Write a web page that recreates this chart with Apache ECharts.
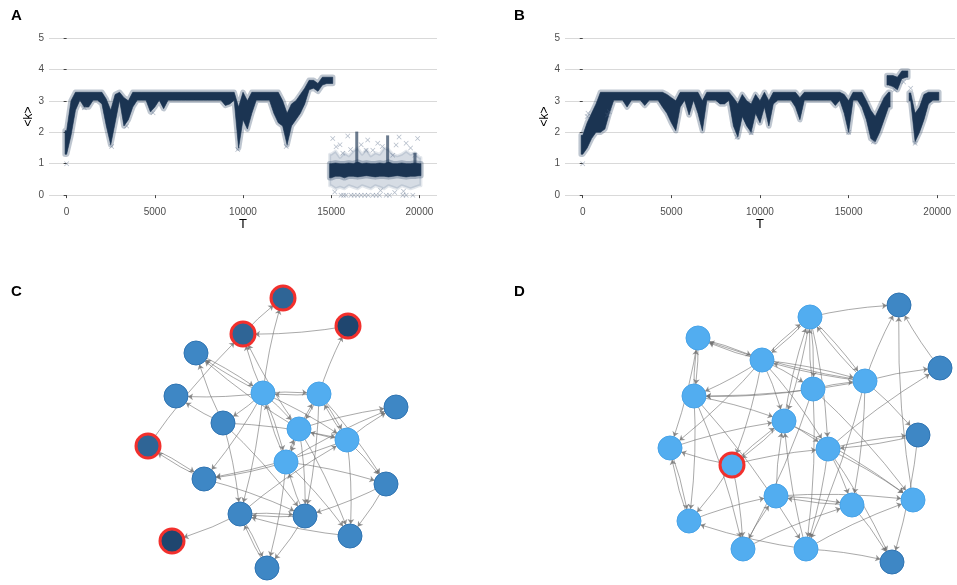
<!DOCTYPE html>
<html><head><meta charset="utf-8">
<script src="https://cdn.jsdelivr.net/npm/echarts@6/dist/echarts.min.js"></script>
<style>html,body{margin:0;padding:0;background:#fff}#c{width:957px;height:585px}</style>
</head><body><div id="c"></div>
<script>
// ---------- Panel A: <k> vs T (dense point bands: [T, kLow, kHigh]) ----------
const A_band = [
[0,1.3,2.05],[250,1.9,3.0],[500,2.7,3.27],[750,3.02,3.27],[1000,2.8,3.27],[1250,2.8,3.27],[1500,3.02,3.27],[1750,3.02,3.27],[2000,2.9,3.27],[2250,2.2,3.05],[2500,1.6,2.7],[2750,2.3,3.2],[3000,3.02,3.27],[3250,2.2,3.1],[3500,2.4,3.0],[3750,2.8,3.27],[4000,3.02,3.27],[4250,3.02,3.27],[4500,3.02,3.27],[4750,2.65,3.27],[5000,2.8,3.27],[5250,3.02,3.27],[5500,2.75,3.27],[5750,3.02,3.27],[6000,3.02,3.27],[6250,3.02,3.27],[6500,3.02,3.27],[6750,3.02,3.27],[7000,3.02,3.27],[7250,3.02,3.27],[7500,3.02,3.27],[7750,3.02,3.27],[8000,3.02,3.27],[8250,3.02,3.27],[8500,3.02,3.27],[8750,3.02,3.27],[9000,2.85,3.27],[9250,2.9,3.27],[9500,3.02,3.27],[9750,1.5,2.8],[10000,2.4,3.27],[10250,2.1,3.0],[10500,2.6,3.27],[10750,3.02,3.27],[11000,3.02,3.27],[11250,3.02,3.27],[11500,3.02,3.27],[11750,2.6,3.27],[12000,2.3,3.27],[12250,2.2,3.0],[12500,1.6,2.6],[12750,2.2,2.9],[13000,2.4,3.0],[13250,2.6,3.2],[13500,2.9,3.4],[13750,3.35,3.65],[14000,3.4,3.65],[14250,3.3,3.55],[14500,3.5,3.75],[14750,3.55,3.75],[15000,3.55,3.75]
];
const A_lowCore = [
[15000,0.55,1.0],[15250,0.6,1.02],[15500,0.6,1.0],[15750,0.55,1.0],[16000,0.6,1.02],[16250,0.6,1.0],[16500,0.58,1.05],[16750,0.6,1.0],[17000,0.62,1.02],[17250,0.6,1.0],[17500,0.58,1.0],[17750,0.6,1.02],[18000,0.6,1.0],[18250,0.58,1.05],[18500,0.6,1.0],[18750,0.62,1.0],[19000,0.6,1.02],[19250,0.58,1.0],[19500,0.6,1.0],[19750,0.6,1.02],[20000,0.62,1.0]
];
const A_lowSpread = [
[15000,0.3,1.3],[15250,0.2,1.4],[15500,0.25,1.2],[15750,0.2,1.35],[16000,0.3,1.25],[16250,0.25,1.4],[16500,0.2,1.5],[16750,0.3,1.3],[17000,0.25,1.45],[17250,0.2,1.25],[17500,0.3,1.35],[17750,0.25,1.3],[18000,0.2,1.5],[18250,0.3,1.45],[18500,0.25,1.3],[18750,0.2,1.25],[19000,0.3,1.3],[19250,0.25,1.4],[19500,0.2,1.3],[19750,0.25,1.35],[20000,0.3,1.2]
];
const A_streaks = [[16450,1.0,2.02],[18200,1.0,1.9],[19750,1.0,1.35]];
const A_points = [
[0,1.0],[15090,1.8],[15940,1.88],[15280,1.54],[17070,1.75],[17360,1.43],[18680,1.59],[19250,1.65],[19900,1.8],[19750,1.27],[15660,1.33],[17640,1.65],[16980,1.43],[18490,1.27],[15500,1.6],[16100,1.45],[17900,1.55],[19500,1.5],[18850,1.85],[16700,1.6],
[15560,0],[15700,0],[15840,0],[16130,0],[16300,0],[16500,0],[16700,0],[16900,0],[17100,0],[17360,0],[17550,0],[17740,0],[18120,0],[18310,0],[19060,0],[19250,0],[19630,0],
[15200,0.1],[17800,0.15],[19100,0.12],[18600,0.08],[2550,1.55],[9700,1.45],[12450,1.55],[3400,2.2],[1000,2.78],[4900,2.62]
];

// ---------- Panel B ----------
const B_band = [
[0,1.3,1.9],[250,1.5,2.3],[500,1.8,2.6],[750,2.0,2.9],[1000,2.0,3.27],[1250,2.1,3.27],[1500,2.6,3.27],[1750,3.02,3.27],[2000,3.02,3.27],[2250,3.02,3.27],[2500,2.8,3.27],[2750,3.02,3.27],[3000,3.02,3.27],[3250,3.02,3.27],[3500,2.85,3.27],[3750,3.02,3.27],[4000,3.02,3.27],[4250,3.02,3.27],[4500,2.8,3.27],[4750,2.6,3.2],[5000,2.3,3.1],[5250,2.05,3.0],[5500,2.8,3.27],[5750,3.02,3.27],[6000,2.55,3.27],[6250,3.02,3.27],[6500,2.6,3.27],[6750,2.05,3.0],[7000,3.02,3.27],[7250,3.02,3.27],[7500,3.02,3.27],[7750,2.9,3.27],[8000,2.9,3.27],[8250,3.02,3.27],[8500,2.2,3.1],[8750,1.85,2.9],[9000,2.5,3.2],[9250,2.2,3.0],[9500,2.0,2.9],[9750,2.6,3.2],[10000,2.3,3.0],[10250,2.8,3.27],[10500,2.2,3.0],[10750,2.9,3.27],[11000,3.02,3.27],[11250,3.02,3.27],[11500,3.02,3.27],[11750,3.02,3.27],[12000,2.8,3.27],[12250,2.4,3.1],[12500,3.02,3.27],[12750,3.02,3.27],[13000,3.02,3.27],[13250,3.02,3.27],[13500,3.02,3.27],[13750,3.02,3.27],[14000,3.02,3.27],[14250,2.85,3.27],[14500,3.02,3.27],[14750,2.6,3.2],[15000,2.0,3.0],[15250,3.02,3.27],[15500,3.02,3.27],[15750,2.8,3.27],[16000,2.4,3.0],[16250,1.8,2.7],[16500,1.7,2.5],[16750,2.0,2.8],[17000,2.4,3.1],[17250,2.8,3.27],
[18500,3.0,3.25],[18750,1.7,2.6],[19000,2.0,2.8],[19250,2.4,3.2],[19500,2.9,3.27],[19750,3.02,3.27],[20000,3.02,3.27]
];
const B_bandHigh = [[17250,3.5,3.8],[17500,3.45,3.8],[17750,3.35,3.75],[18000,3.7,3.95],[18250,3.75,3.95]];
const B_points = [[0,1.0],[1400,2.55],[1500,2.65],[300,2.6],[250,2.5],[8700,1.85],[16400,1.7],[18750,1.65],[15000,2.0],[9500,1.98],[17600,3.35],[18100,3.6],[18500,3.4]];

// ---------- Tick labels ----------
const xTicks = [0, 5000, 10000, 15000, 20000];
const yTicks = [0, 1, 2, 3, 4, 5];

// ---------- Panel C network: [name, x, y, kind] (layout units) ----------
const C_nodes = [
['c1',153,13,'ring'],['c2',218,41,'ringDark'],['c3',113,49,'ring'],['c4',66,68,'mid'],['c5',46,111,'mid'],
['c6',133,108,'light'],['c7',189,109,'light'],['c8',266,122,'mid'],['c9',93,138,'mid'],['c10',169,144,'light'],
['c11',217,155,'light'],['c12',18,161,'ring'],['c13',156,177,'light'],['c14',74,194,'mid'],['c15',256,199,'mid'],
['c16',110,229,'mid'],['c17',175,231,'mid'],['c18',220,251,'mid'],['c19',42,256,'ringDark'],['c20',137,283,'mid']
];
const C_edges = [
['c3','c1'],['c6','c1'],['c2','c3'],['c7','c2'],['c12','c3'],['c6','c3'],['c10','c3'],['c4','c6'],['c6','c4'],['c10','c4'],['c9','c4'],['c6','c5'],['c9','c5'],['c7','c6'],['c6','c7'],['c6','c10'],['c6','c11'],['c7','c10'],['c7','c11'],['c10','c7'],['c11','c7'],['c10','c8'],['c11','c8'],['c13','c8'],['c7','c15'],['c11','c15'],['c13','c15'],['c11','c18'],['c15','c18'],['c15','c17'],['c13','c18'],['c14','c12'],['c12','c14'],['c14','c17'],['c16','c19'],['c16','c17'],['c17','c16'],['c16','c20'],['c20','c16'],['c17','c20'],['c13','c20'],['c18','c16'],['c6','c16'],['c9','c16'],['c10','c17'],['c7','c17'],['c13','c14'],['c6','c14'],['c11','c14'],['c10','c13'],['c13','c10'],['c9','c11'],['c6','c9'],['c13','c6'],['c11','c10'],['c6','c13'],['c9','c17'],['c17','c13'],['c16','c11'],['c10','c18']
];

// ---------- Panel D network ----------
const D_nodes = [
['d1',249,15,'mid'],['d2',160,27,'light'],['d3',48,48,'light'],['d4',112,70,'light'],['d5',290,78,'mid'],
['d6',215,91,'light'],['d7',163,99,'light'],['d8',44,106,'light'],['d9',134,131,'light'],['d10',268,145,'mid'],
['d11',20,158,'light'],['d12',178,159,'light'],['d13',82,175,'ringLight'],['d14',126,206,'light'],['d15',202,215,'light'],
['d16',263,210,'light'],['d17',39,231,'light'],['d18',93,259,'light'],['d19',156,259,'light'],['d20',242,272,'mid']
];
const D_edges = [
['d2','d1'],['d6','d1'],['d16','d1'],['d5','d1'],['d6','d5'],['d12','d5'],['d4','d2'],['d2','d4'],['d4','d3'],['d6','d3'],['d3','d8'],['d8','d3'],['d3','d11'],['d4','d8'],['d7','d8'],['d6','d8'],['d2','d7'],['d7','d2'],['d2','d9'],['d9','d2'],['d2','d6'],['d6','d2'],['d4','d6'],['d6','d4'],['d4','d9'],['d4','d12'],['d4','d11'],['d4','d13'],['d8','d9'],['d11','d9'],['d9','d13'],['d13','d9'],['d6','d10'],['d12','d10'],['d10','d12'],['d6','d15'],['d6','d19'],['d7','d16'],['d12','d16'],['d9','d16'],['d13','d11'],['d13','d17'],['d13','d12'],['d13','d18'],['d8','d17'],['d11','d17'],['d17','d11'],['d8','d18'],['d8','d19'],['d17','d14'],['d19','d17'],['d14','d15'],['d15','d14'],['d14','d16'],['d15','d20'],['d12','d20'],['d19','d20'],['d19','d16'],['d18','d15'],['d10','d20'],['d14','d9'],['d19','d9'],['d7','d18'],['d7','d19'],['d12','d19'],['d18','d14'],['d4','d7'],['d7','d6'],['d9','d12'],['d3','d4'],['d12','d15'],['d2','d12']
];

// ---------- styling ----------
const FONT = 'Liberation Sans, Arial, sans-serif';
const BIN = 250;
const NAVY = '#1b3452';
const XSYM = 'path://M0,1L1,0L5,4L9,0L10,1L6,5L10,9L9,10L5,6L1,10L0,9L4,5Z';
const nodeStyle = {
  light: {color:'#52adf0', borderColor:'#47a3e8', borderWidth:1},
  mid: {color:'#3e87c5', borderColor:'#2f74b2', borderWidth:1},
  ring: {color:'#2f6596', borderColor:'#f2302d', borderWidth:3},
  ringDark: {color:'#1f466f', borderColor:'#f2302d', borderWidth:3},
  ringLight: {color:'#52adf0', borderColor:'#f2302d', borderWidth:3}
};

// each contiguous run of bins is drawn as one polygon (outline through the band's high and low edges)
function bandRender(data, style) {
  return function (params, api) {
    const i = params.dataIndex;
    if (i > 0 && data[i][0] - data[i - 1][0] === BIN) return null;
    let j = i;
    while (j + 1 < data.length && data[j + 1][0] - data[j][0] === BIN) j++;
    const ext = BIN * 0.35;
    const top = [], bot = [];
    top.push(api.coord([data[i][0] - ext, data[i][2]]));
    bot.push(api.coord([data[i][0] - ext, data[i][1]]));
    for (let k = i; k <= j; k++) {
      top.push(api.coord([data[k][0], data[k][2]]));
      bot.push(api.coord([data[k][0], data[k][1]]));
    }
    top.push(api.coord([data[j][0] + ext, data[j][2]]));
    bot.push(api.coord([data[j][0] + ext, data[j][1]]));
    const pts = top.concat(bot.reverse());
    return {type:'polygon', shape:{points:pts}, style:style};
  };
}
function bandSeries(data, axisIdx, style) {
  return {type:'custom', xAxisIndex:axisIdx, yAxisIndex:axisIdx, data:data,
    encode:{x:0, y:[1, 2]}, renderItem:bandRender(data, style), silent:true, animation:false};
}
function streakRender(params, api) {
  const a = api.coord([api.value(0), api.value(2)]), b = api.coord([api.value(0), api.value(1)]);
  return {type:'rect', shape:{x:a[0] - 1.5, y:a[1], width:3, height:b[1] - a[1]}, style:{fill:'rgba(27,52,82,0.65)'}};
}
function pointSeries(data, axisIdx) {
  return {type:'scatter', xAxisIndex:axisIdx, yAxisIndex:axisIdx, data:data, symbol:XSYM, symbolSize:5,
    itemStyle:{color:'rgba(80,100,130,0.55)'}, silent:true, animation:false};
}
function graphSeries(nodes, edges, axisIdx) {
  return {type:'graph', coordinateSystem:'cartesian2d', xAxisIndex:axisIdx, yAxisIndex:axisIdx,
    data: nodes.map(n => ({name:n[0], value:[n[1], n[2]], symbolSize:24, itemStyle:nodeStyle[n[3]]})),
    links: edges.map(e => ({source:e[0], target:e[1]})),
    edgeSymbol:['none', 'arrow'], edgeSymbolSize:[0, 5],
    lineStyle:{color:'#6e6e6e', width:0.8, opacity:0.75, curveness:0.05},
    label:{show:false}, silent:true, animation:false};
}
function valueX(gi) {
  return {type:'value', gridIndex:gi, min:-1000, max:21000,
    name:'T', nameLocation:'middle', nameGap:13, nameTextStyle:{color:'#000', fontSize:13, fontFamily:FONT},
    axisLine:{show:false}, splitLine:{show:false},
    axisTick:{show:true, length:3, customValues:xTicks, lineStyle:{color:'#444'}},
    axisLabel:{customValues:xTicks, formatter:v => String(v), color:'#4d4d4d', fontSize:10, margin:4, fontFamily:FONT}};
}
function valueY(gi, gap) {
  return {type:'value', gridIndex:gi, min:-0.25, max:5.25,
    name:'<k>', nameLocation:'middle', nameGap:gap, nameRotate:90, nameTextStyle:{color:'#000', fontSize:12, fontFamily:FONT},
    axisLine:{show:false},
    splitLine:{show:true, lineStyle:{color:'#d9d9d9', width:1.2}},
    axisTick:{show:true, length:3, customValues:yTicks, lineStyle:{color:'#444'}},
    axisLabel:{customValues:yTicks, formatter:v => String(v), color:'#4d4d4d', fontSize:10, margin:5, fontFamily:FONT}};
}
function hiddenX(gi, max) { return {type:'value', gridIndex:gi, min:0, max:max, show:false}; }
function hiddenY(gi, max) { return {type:'value', gridIndex:gi, min:0, max:max, inverse:true, show:false}; }

const chart = echarts.init(document.getElementById('c'), null, {renderer:'canvas'});
const lab = (t, l, tp) => ({text:t, left:l, top:tp, padding:0, textStyle:{fontSize:15, fontWeight:'bold', color:'#000', fontFamily:FONT}});
const haloStyle = {fill:'rgba(40,66,98,0.3)', stroke:'rgba(40,66,98,0.3)', lineWidth:5.5, lineJoin:'round'};
const coreStyle = {fill:NAVY, stroke:NAVY, lineWidth:0.6, lineJoin:'round'};
chart.setOption({
  backgroundColor:'#fff',
  animation:false,
  title:[lab('A', 11, 8), lab('B', 514, 8), lab('C', 11, 284), lab('D', 514, 284)],
  grid:[
    {left:49, top:30, width:388, height:173},
    {left:565, top:30, width:390, height:173},
    {left:130, top:285, width:290, height:295},
    {left:650, top:290, width:300, height:290}
  ],
  xAxis:[valueX(0), valueX(1), hiddenX(2, 290), hiddenX(3, 300)],
  yAxis:[valueY(0, 13), valueY(1, 12), hiddenY(2, 295), hiddenY(3, 290)],
  series:[
    bandSeries(A_lowSpread, 0, {fill:'rgba(70,95,130,0.22)', stroke:'rgba(70,95,130,0.15)', lineWidth:3, lineJoin:'round'}),
    bandSeries(A_band, 0, haloStyle),
    bandSeries(A_lowCore, 0, haloStyle),
    bandSeries(A_band, 0, coreStyle),
    bandSeries(A_lowCore, 0, coreStyle),
    {type:'custom', xAxisIndex:0, yAxisIndex:0, data:A_streaks, encode:{x:0, y:[1, 2]}, renderItem:streakRender, silent:true, animation:false},
    pointSeries(A_points, 0),
    bandSeries(B_band, 1, haloStyle),
    bandSeries(B_bandHigh, 1, haloStyle),
    bandSeries(B_band, 1, coreStyle),
    bandSeries(B_bandHigh, 1, coreStyle),
    pointSeries(B_points, 1),
    graphSeries(C_nodes, C_edges, 2),
    graphSeries(D_nodes, D_edges, 3)
  ]
});
</script></body></html>
